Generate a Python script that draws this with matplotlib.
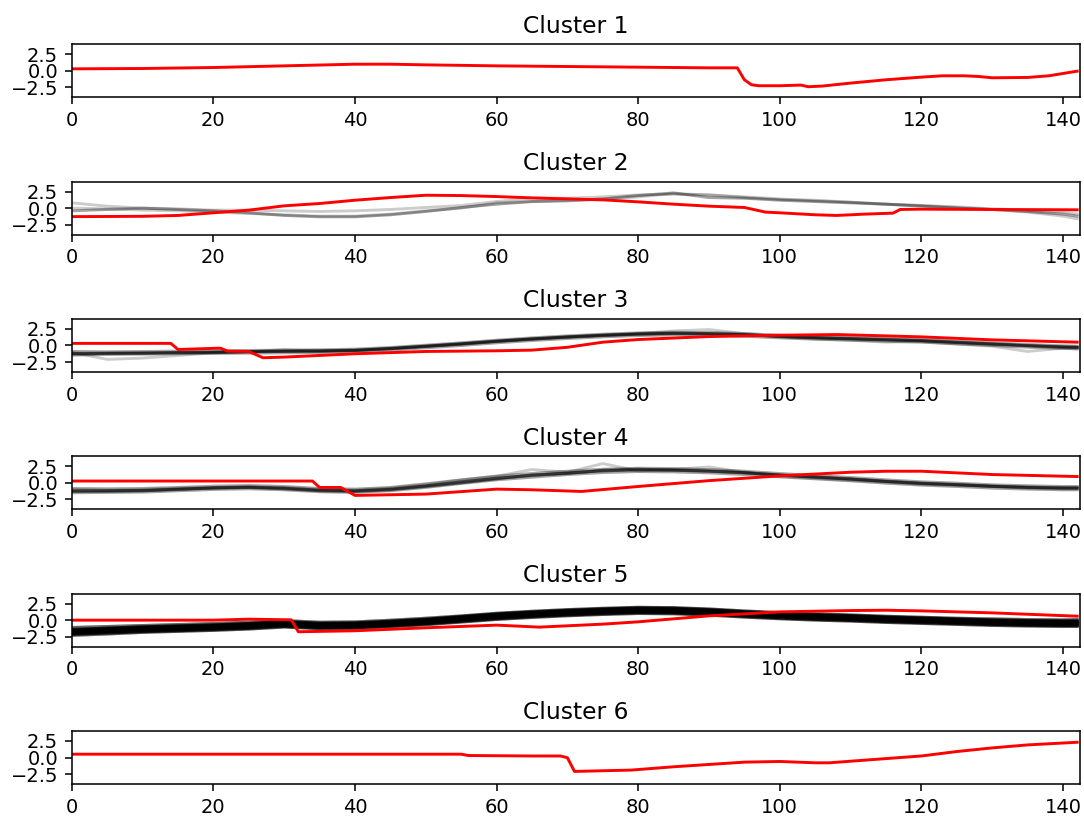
import matplotlib
matplotlib.use("Agg")
import matplotlib.pyplot as plt

# common sampling grid for the member series (grey)
grid = [0, 5, 10, 15, 20, 25, 30, 35, 40, 45, 50, 55, 60, 65, 70,
        75, 80, 85, 90, 95, 100, 105, 110, 115, 120, 125, 130, 135, 140, 142]

# cluster centres (red)
c1_x = [0, 10, 20, 30, 40, 45, 50, 60, 70, 80, 90, 94, 95, 96, 97, 100, 103, 104, 106,
        110, 115, 120, 123, 126, 128, 130, 135, 138, 142]
c1_y = [0.3, 0.35, 0.5, 0.75, 1.0, 1.0, 0.9, 0.75, 0.65, 0.55, 0.45, 0.45, -1.35, -2.1, -2.25,
        -2.25, -2.15, -2.4, -2.3, -1.85, -1.35, -0.95, -0.75, -0.75, -0.85, -1.05, -1.0, -0.75, -0.05]

c2_x = [0, 10, 15, 20, 25, 30, 35, 40, 45, 50, 55, 60, 65, 70, 75, 80, 85, 90, 95, 98,
        100, 105, 108, 112, 116, 117, 120, 130, 142]
c2_y = [-1.28, -1.23, -1.1, -0.7, -0.3, 0.35, 0.7, 1.2, 1.6, 1.95, 1.9, 1.75, 1.55, 1.4, 1.25,
        0.95, 0.6, 0.3, 0.1, -0.6, -0.7, -1.0, -1.1, -0.9, -0.75, -0.2, -0.15, -0.2, -0.25]

c3_x = [0, 14, 15, 21, 22, 25, 27, 30, 40, 50, 60, 65, 70, 75, 80, 90, 100, 108, 115,
        120, 130, 142]
c3_y = [0.32, 0.32, -0.6, -0.4, -0.85, -0.9, -1.85, -1.75, -1.25, -0.9, -0.8, -0.7, -0.27,
        0.5, 0.9, 1.35, 1.55, 1.65, 1.45, 1.3, 0.85, 0.5]

c4_x = [0, 34, 35, 38, 40, 50, 60, 65, 72, 80, 90, 100, 110, 115, 120, 130, 142]
c4_y = [0.27, 0.27, -0.7, -0.7, -1.9, -1.7, -0.95, -1.05, -1.3, -0.55, 0.33, 1.05, 1.6,
        1.75, 1.75, 1.25, 0.95]

c5_x = [0, 20, 25, 31, 32, 40, 50, 60, 66, 75, 80, 90, 100, 110, 115, 120, 130, 142]
c5_y = [0.0, 0.0, 0.15, 0.05, -1.75, -1.6, -1.15, -0.75, -1.05, -0.6, -0.25, 0.65, 1.25,
        1.45, 1.5, 1.4, 1.1, 0.6]

c6_x = [0, 55, 56, 65, 69, 70, 71, 75, 79, 85, 90, 95, 100, 105, 107, 112, 120, 125,
        130, 135, 142]
c6_y = [0.5, 0.5, 0.3, 0.23, 0.23, -0.03, -2.1, -2.0, -1.9, -1.4, -1.05, -0.7, -0.6, -0.8,
        -0.8, -0.4, 0.23, 0.9, 1.45, 1.9, 2.3]

# member series (grey), sampled on grid
m2 = [
    [-0.4, -0.2, 0.0, -0.2, -0.4, -0.7, -1.1, -1.3, -1.3, -1.0, -0.5, 0.1, 0.6, 1.0, 1.1,
     1.4, 1.9, 2.3, 1.6, 1.5, 1.2, 1.0, 0.8, 0.6, 0.3, 0.0, -0.2, -0.5, -0.9, -1.2],
    [0.8, 0.3, 0.0, -0.1, -0.3, -0.3, -0.4, -0.5, -0.4, -0.2, 0.1, 0.4, 1.0, 1.5, 1.5,
     1.7, 2.0, 2.1, 2.0, 1.6, 1.3, 1.2, 0.9, 0.6, 0.4, 0.1, -0.2, -0.6, -1.2, -1.6],
    [0.0, -0.1, -0.3, -0.4, -0.6, -0.8, -1.0, -1.2, -1.2, -0.9, -0.4, 0.0, 0.8, 1.0, 1.2,
     1.3, 1.7, 2.2, 2.0, 1.7, 1.4, 1.1, 0.9, 0.6, 0.4, 0.2, -0.1, -0.3, -0.6, -0.9],
]
n2 = [2, 1, 1]

m3 = [
    [-0.9, -0.95, -0.9, -0.85, -0.8, -0.75, -0.7, -0.65, -0.55, -0.3, 0.05, 0.4, 0.8, 1.15, 1.45,
     1.7, 1.9, 2.0, 1.95, 1.8, 1.55, 1.35, 1.2, 1.05, 0.9, 0.65, 0.4, 0.15, -0.05, -0.1],
    [-1.2, -1.15, -1.1, -1.05, -1.0, -0.95, -0.9, -0.85, -0.75, -0.5, -0.15, 0.2, 0.6, 0.95, 1.25,
     1.5, 1.7, 1.8, 1.75, 1.6, 1.35, 1.15, 1.0, 0.85, 0.7, 0.45, 0.2, -0.05, -0.25, -0.3],
    [-1.45, -1.35, -1.3, -1.25, -1.2, -1.15, -1.1, -1.05, -0.95, -0.7, -0.35, 0.0, 0.4, 0.75, 1.05,
     1.3, 1.5, 1.6, 1.55, 1.4, 1.15, 0.95, 0.8, 0.65, 0.5, 0.25, 0.0, -0.25, -0.45, -0.5],
    [-1.0, -2.1, -1.9, -1.5, -1.1, -1.0, -0.6, -0.9, -0.8, -0.4, -0.1, 0.3, 0.7, 1.0, 1.3,
     1.6, 1.8, 2.2, 2.4, 1.8, 1.3, 1.0, 0.8, 0.5, 0.6, 0.2, -0.1, -0.9, -0.4, -0.5],
    [-1.3, -1.2, -1.2, -1.1, -1.05, -0.9, -0.85, -0.8, -0.7, -0.45, -0.1, 0.25, 0.65, 1.0, 1.3,
     1.55, 1.75, 1.85, 1.8, 1.65, 1.4, 1.2, 1.05, 0.9, 0.75, 0.5, 0.25, 0.0, -0.2, -0.25],
]
n3 = [2, 3, 2, 1, 3]

m4 = [
    [-0.85, -0.9, -0.85, -0.7, -0.5, -0.4, -0.55, -0.85, -0.95, -0.7, -0.15, 0.45, 1.0, 1.4, 1.75,
     2.05, 2.2, 2.15, 2.0, 1.75, 1.4, 1.1, 0.8, 0.45, 0.15, -0.05, -0.3, -0.45, -0.55, -0.55],
    [-1.2, -1.2, -1.15, -0.95, -0.75, -0.65, -0.8, -1.1, -1.2, -0.95, -0.45, 0.15, 0.7, 1.1, 1.5,
     1.8, 1.95, 1.9, 1.75, 1.5, 1.15, 0.85, 0.55, 0.2, -0.1, -0.3, -0.55, -0.7, -0.8, -0.8],
    [-1.5, -1.45, -1.4, -1.2, -1.0, -0.9, -1.05, -1.35, -1.45, -1.2, -0.7, -0.1, 0.45, 0.85, 1.25,
     1.55, 1.7, 1.65, 1.5, 1.25, 0.9, 0.6, 0.3, -0.05, -0.35, -0.55, -0.8, -0.95, -1.05, -1.05],
    [-1.0, -1.1, -1.0, -0.8, -0.7, -0.6, -0.7, -1.0, -1.1, -0.8, -0.3, 0.4, 1.0, 2.0, 1.6,
     2.9, 1.8, 2.0, 2.4, 1.6, 1.0, 0.7, 0.4, 0.1, -0.2, -0.4, -0.5, -0.8, -0.9, -0.9],
    [-1.3, -1.25, -1.2, -1.0, -0.8, -0.7, -0.9, -1.2, -1.3, -1.05, -0.55, 0.0, 0.6, 1.2, 1.4,
     1.9, 2.05, 1.95, 1.8, 1.55, 1.2, 0.9, 0.6, 0.25, -0.05, -0.25, -0.5, -0.65, -0.75, -0.75],
]
n4 = [2, 3, 2, 1, 3]

m5 = [
    [-1.1, -0.95, -0.8, -0.65, -0.5, -0.3, -0.05, -0.3, -0.25, 0.0, 0.3, 0.65, 1.05, 1.35, 1.6,
     1.8, 1.95, 1.9, 1.7, 1.4, 1.15, 0.95, 0.8, 0.6, 0.45, 0.3, 0.2, 0.1, 0.05, 0.1],
    [-1.4, -1.2, -1.0, -0.85, -0.7, -0.5, -0.2, -0.45, -0.4, -0.15, 0.15, 0.55, 0.95, 1.25, 1.5,
     1.7, 1.85, 1.8, 1.6, 1.3, 1.05, 0.85, 0.7, 0.5, 0.35, 0.2, 0.05, -0.05, -0.1, -0.1],
    [-1.6, -1.4, -1.2, -1.05, -0.9, -0.7, -0.4, -0.65, -0.6, -0.35, -0.05, 0.35, 0.75, 1.05, 1.3,
     1.5, 1.65, 1.6, 1.4, 1.1, 0.85, 0.65, 0.5, 0.3, 0.15, 0.0, -0.15, -0.25, -0.3, -0.3],
    [-1.75, -1.55, -1.35, -1.2, -1.05, -0.85, -0.55, -0.8, -0.75, -0.5, -0.2, 0.2, 0.6, 0.9, 1.15,
     1.35, 1.5, 1.45, 1.25, 0.95, 0.7, 0.5, 0.35, 0.15, 0.0, -0.15, -0.3, -0.4, -0.45, -0.45],
    [-1.9, -1.7, -1.5, -1.35, -1.2, -1.0, -0.7, -0.95, -0.9, -0.65, -0.35, 0.05, 0.45, 0.75, 1.0,
     1.2, 1.35, 1.3, 1.1, 0.8, 0.55, 0.35, 0.2, 0.0, -0.15, -0.3, -0.45, -0.55, -0.6, -0.6],
    [-2.05, -1.85, -1.65, -1.5, -1.35, -1.15, -0.85, -1.1, -1.05, -0.8, -0.5, -0.1, 0.3, 0.6, 0.85,
     1.05, 1.2, 1.15, 0.95, 0.65, 0.4, 0.2, 0.05, -0.15, -0.3, -0.45, -0.6, -0.7, -0.75, -0.75],
    [-2.3, -2.1, -1.85, -1.7, -1.55, -1.35, -1.05, -1.3, -1.25, -1.0, -0.7, -0.3, 0.1, 0.4, 0.65,
     0.85, 1.0, 0.95, 0.75, 0.45, 0.2, 0.0, -0.15, -0.35, -0.5, -0.65, -0.8, -0.9, -0.95, -0.95],
    [-1.5, -1.3, -1.1, -0.95, -0.8, -0.6, -0.3, -0.55, -0.5, -0.25, 0.05, 0.45, 0.85, 1.15, 1.4,
     1.6, 1.75, 1.7, 1.5, 1.2, 0.95, 0.75, 0.6, 0.4, 0.25, 0.1, -0.05, -0.15, -0.2, -0.2],
    [-2.15, -1.95, -1.75, -1.6, -1.45, -1.25, -0.95, -1.2, -1.15, -0.9, -0.6, -0.2, 0.2, 0.5, 0.75,
     0.95, 1.1, 1.05, 0.85, 0.55, 0.3, 0.1, -0.05, -0.25, -0.4, -0.55, -0.7, -0.8, -0.85, -0.85],
]
# number of members that follow each profile closely
n5 = [4, 6, 7, 8, 7, 6, 4, 6, 5]

centres = [(c1_x, c1_y), (c2_x, c2_y), (c3_x, c3_y), (c4_x, c4_y), (c5_x, c5_y), (c6_x, c6_y)]
members = [[], m2, m3, m4, m5, []]
counts = [[], n2, n3, n4, n5, []]
sz = 142.4

fig = plt.figure(figsize=(1084 / 140, 816 / 140), dpi=140)
for yi in range(6):
    ax = fig.add_subplot(6, 1, yi + 1)
    for xx, n in zip(members[yi], counts[yi]):
        for _ in range(n):
            ax.plot(grid, xx, "k-", alpha=.2)
    ax.plot(centres[yi][0], centres[yi][1], "r-")
    ax.set_xlim(0, sz)
    ax.set_ylim(-4, 4)
    ax.set_yticks([-2.5, 0.0, 2.5])
    ax.set_title("Cluster %d" % (yi + 1))

fig.subplots_adjust(left=0.0662, right=0.9963, top=0.9457, bottom=0.0392, hspace=1.59)
fig.savefig("out.png", dpi=140)
